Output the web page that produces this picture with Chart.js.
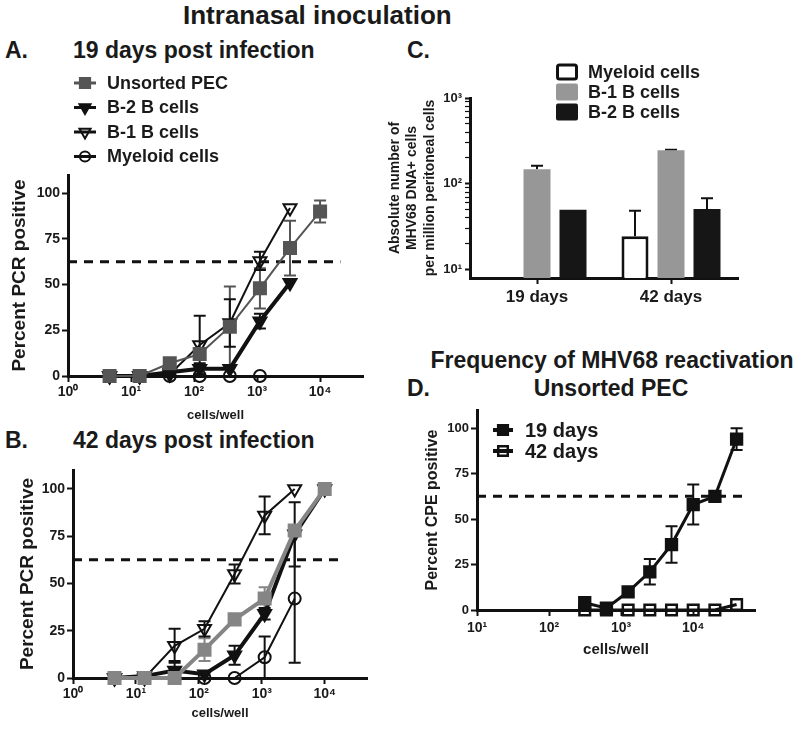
<!DOCTYPE html>
<html>
<head>
<meta charset="utf-8">
<script src="https://cdn.jsdelivr.net/npm/chart.js@4.4.1/dist/chart.umd.min.js"></script>
<style>
body { margin: 0; background: #fff; width: 800px; height: 731px; position: relative; overflow: hidden;
       font-family: "Liberation Sans", Arial, sans-serif; font-weight: bold; color: #1a1a1a; }
.t { position: absolute; white-space: nowrap; line-height: 1; }
.c { transform: translateX(-50%); }
.panel { position: absolute; }
canvas { display: block; }
</style>
</head>
<body>
<div class="t" style="left:183px;top:2px;font-size:26px">Intranasal inoculation</div>
<div class="t" style="left:5px;top:39px;font-size:23px">A.</div>
<div class="t" style="left:73px;top:39px;font-size:23px">19 days post infection</div>
<div class="t" style="left:407px;top:39px;font-size:23px">C.</div>
<div class="t" style="left:5px;top:429px;font-size:23px">B.</div>
<div class="t" style="left:73px;top:429px;font-size:23px">42 days post infection</div>
<div class="t c" style="left:612px;top:349px;font-size:23px">Frequency of MHV68 reactivation</div>
<div class="t" style="left:407px;top:377px;font-size:23px">D.</div>
<div class="t c" style="left:611px;top:377px;font-size:23px">Unsorted PEC</div>

<div class="panel" style="left:0;top:65px"><canvas id="chartA" width="400" height="365"></canvas></div>
<div class="panel" style="left:0;top:455px"><canvas id="chartB" width="400" height="276"></canvas></div>
<div class="panel" style="left:380px;top:55px"><canvas id="chartC" width="420" height="260"></canvas></div>
<div class="panel" style="left:380px;top:395px"><canvas id="chartD" width="420" height="270"></canvas></div>

<script>
// cells per well (3-fold dilutions for A/B, 2-fold for D)
const dilutionsAB = [4.57, 13.7, 41.2, 123, 370, 1111, 3333, 10000];
const dilutionsD = [312.5, 625, 1250, 2500, 5000, 10000, 20000, 40000];
const threshold = 62.5;

// panel A: 19 days
const unsortedA = [0, 0, 7, 12, 27, 48, 70, 90];
const unsortedAErr = [0, 0, 0, 3, 22, 11, 15, 6];
const b2A = [0, 0, 2, 4, 4, 30, 51, null];
const b2AErr = [0, 0, 0, 3, 0, 4, 0, 0];
const b1A = [0, 0, 1, 17, 29, 63, 92, null];
const b1AErr = [0, 0, 0, 16, 13, 5, 0, 0];
const myeloidA = [0, 0, 0, 0, 0, 0, null, null];

// panel B: 42 days
const unsortedB = [0, 0, 0, 15, 31, 42, 78, 100];
const unsortedBErr = [0, 0, 0, 6, 0, 6, 0, 0];
const b2B = [0, 1, 4, 2, 12, 34, 76, 100];
const b2BErr = [0, 0, 5, 0, 5, 3, 17, 0];
const b1B = [0, 0, 17, 26, 55, 86, 100, null];
const b1BErr = [0, 0, 9, 4, 5, 10, 0, 0];
const myeloidB = [0, 0, 0, 0, 0, 11, 42, null];
const myeloidBErr = [0, 0, 0, 0, 0, 11, 34, 0];

// panel C: absolute numbers
const groups = ['19 days', '42 days'];
const myeloidC = [null, 24.5];
const myeloidCErr = [0, 24];
const b1C = [148, 246];
const b1CErr = [14, 3];
const b2C = [50, 51];
const b2CErr = [0, 17];

// panel D: reactivation
const d19 = [4, 1, 10, 21, 36, 58, 62.5, 94];
const d19Err = [0, 0, 0, 7, 10, 11, 0, 6];
const d42 = [0, 0, 0, 0, 0, 0, 0, 3];

const pctTicks = [0, 25, 50, 75, 100];
const FONT = '"Liberation Sans", Arial, sans-serif';
const INK = '#111';
const OPEN = 'rgba(255,255,255,0)';
Chart.defaults.font.family = FONT;
Chart.defaults.font.weight = 'bold';
Chart.defaults.color = '#1a1a1a';

const supDigits = ['⁰', '¹', '²', '³', '⁴', '⁵'];
function powLabel(v) {
    const e = Math.log10(v);
    if (Math.abs(e - Math.round(e)) > 1e-6) return '';
    return '10' + supDigits[Math.round(e)];
}
function pts(xs, ys) {
    return xs.map((x, i) => ({x: x, y: ys[i]}));
}

// error bars drawn under the markers
const errorBars = {
    id: 'errorBars',
    beforeDatasetsDraw(chart) {
        const ctx = chart.ctx;
        chart.data.datasets.forEach((ds, di) => {
            if (!ds.err) return;
            const meta = chart.getDatasetMeta(di);
            const ys = chart.scales[meta.yAxisID];
            ctx.save();
            ctx.strokeStyle = ds.errColor || ds.borderColor;
            ctx.lineWidth = 2;
            meta.data.forEach((el, i) => {
                const e = ds.err[i];
                const raw = ds.data[i];
                const v = (raw !== null && typeof raw === 'object') ? raw.y : raw;
                if (!e || v === null || v === undefined) return;
                const x = el.x;
                const top = ys.getPixelForValue(v + e);
                const bot = ds.upOnly ? ys.getPixelForValue(v) : ys.getPixelForValue(Math.max(v - e, ys.min));
                const cap = ds.capWidth || 6;
                ctx.beginPath();
                ctx.moveTo(x, top); ctx.lineTo(x, bot);
                ctx.moveTo(x - cap, top); ctx.lineTo(x + cap, top);
                if (!ds.upOnly && v - e > ys.min) { ctx.moveTo(x - cap, bot); ctx.lineTo(x + cap, bot); }
                ctx.stroke();
            });
            ctx.restore();
        });
    }
};

// legend: line + marker, drawn with the library's point renderer
const lineLegend = {
    id: 'lineLegend',
    afterDraw(chart, args, o) {
        if (!o || !o.x) return;
        const ctx = chart.ctx;
        const items = chart.data.datasets.filter(d => d.label);
        items.forEach((ds, i) => {
            const y = o.y + i * o.step;
            ctx.save();
            ctx.fillStyle = ds.pointBackgroundColor;
            ctx.strokeStyle = ds.borderColor;
            ctx.lineWidth = ds.pointBorderWidth;
            Chart.helpers.drawPoint(ctx, {
                pointStyle: ds.pointStyle, rotation: ds.pointRotation || 0,
                radius: ds.pointRadius * (o.scale || 1), borderWidth: ds.pointBorderWidth
            }, o.x, y);
            ctx.strokeStyle = ds.borderColor;
            ctx.lineWidth = o.lineWidth || 3;
            ctx.beginPath();
            ctx.moveTo(o.x - o.half, y); ctx.lineTo(o.x + o.half, y);
            ctx.stroke();
            ctx.fillStyle = '#1a1a1a';
            ctx.font = 'bold ' + o.size + 'px ' + FONT;
            ctx.textBaseline = 'middle';
            ctx.fillText(ds.label, o.textX, y + 1);
            ctx.restore();
        });
    }
};

// legend: boxes for bars
const boxLegend = {
    id: 'boxLegend',
    afterDraw(chart, args, o) {
        if (!o || !o.x) return;
        const ctx = chart.ctx;
        chart.data.datasets.forEach((ds, i) => {
            const y = o.y + i * o.step;
            ctx.save();
            ctx.beginPath();
            ctx.roundRect(o.x, y - o.h / 2, o.w, o.h, 2);
            ctx.fillStyle = ds.backgroundColor;
            ctx.fill();
            if (ds.borderWidth) {
                ctx.lineWidth = ds.borderWidth;
                ctx.strokeStyle = ds.borderColor;
                ctx.beginPath();
                ctx.roundRect(o.x + 1.5, y - o.h / 2 + 1.5, o.w - 3, o.h - 3, 2);
                ctx.stroke();
            }
            ctx.fillStyle = '#1a1a1a';
            ctx.font = 'bold ' + o.size + 'px ' + FONT;
            ctx.textBaseline = 'middle';
            ctx.fillText(ds.label, o.textX, y + 1);
            ctx.restore();
        });
    }
};

function axisCommon(tickSize) {
    return {
        grid: {display: true, drawOnChartArea: false, drawTicks: true, tickLength: 6, tickWidth: 2, tickColor: INK},
        border: {display: true, color: INK, width: 3},
        ticks: {font: {size: tickSize, weight: 'bold'}, color: '#1a1a1a', maxRotation: 0, autoSkip: false}
    };
}

function threshLine(x0, x1) {
    return {
        data: [{x: x0, y: threshold}, {x: x1, y: threshold}],
        borderColor: INK, borderWidth: 3, borderDash: [9, 7], pointRadius: 0, clip: false
    };
}

function series(label, xs, ys, err, style) {
    return Object.assign({
        label: label, data: pts(xs, ys), err: err, clip: false,
        borderColor: INK, pointBorderColor: INK, pointBackgroundColor: INK,
        borderWidth: 2, pointBorderWidth: 2, pointRadius: 6, tension: 0
    }, style);
}

const sqStyle = (col, lw) => ({pointStyle: 'rect', pointRadius: 8.5, borderColor: col, pointBorderColor: col, pointBackgroundColor: col, borderWidth: lw});
const b2Style = {pointStyle: 'triangle', pointRotation: 180, pointRadius: 7.5, borderWidth: 4};
const b1Style = {pointStyle: 'triangle', pointRotation: 180, pointRadius: 7.5, pointBackgroundColor: OPEN, borderWidth: 2};
const myStyle = {pointStyle: 'circle', pointRadius: 6, pointBackgroundColor: OPEN, borderWidth: 2};

function pctPanel(id, datasets, o) {
    const xAx = axisCommon(14);
    const yAx = axisCommon(14);
    return new Chart(document.getElementById(id), {
        type: 'line',
        data: {datasets: datasets},
        plugins: [errorBars, lineLegend],
        options: {
            animation: false, responsive: false, events: [],
            layout: {padding: {top: o.top, right: o.right, left: 0, bottom: 0}},
            plugins: {legend: {display: false}, tooltip: {enabled: false}, lineLegend: o.legend || {}},
            scales: {
                x: Object.assign(xAx, {
                    type: 'logarithmic', min: o.xmin, max: o.xmax,
                    afterBuildTicks: s => { s.ticks = o.xticks.map(v => ({value: v})); },
                    ticks: Object.assign(xAx.ticks, {padding: o.xpad, callback: v => powLabel(v)}),
                    title: {display: true, text: 'cells/well', font: {size: o.xtitleSize, weight: 'bold'}, padding: {top: 0, bottom: o.xtitlePad}},
                    afterFit: s => { s.height = o.xh; }
                }),
                y: Object.assign(yAx, {
                    type: 'linear', min: 0, max: 110,
                    afterBuildTicks: s => { s.ticks = pctTicks.map(v => ({value: v})); },
                    ticks: Object.assign(yAx.ticks, {padding: 2, font: {size: o.ytickSize, weight: 'bold'}}),
                    title: {display: true, text: o.ytitle, font: {size: o.ytitleSize, weight: 'bold'}, padding: {top: o.ytitlePad, bottom: 0}},
                    afterFit: s => { s.width = o.yw; }
                })
            }
        }
    });
}

// Panel A
pctPanel('chartA', [
    series('Unsorted PEC', dilutionsAB, unsortedA, unsortedAErr, sqStyle('#555', 2)),
    series('B-2 B cells', dilutionsAB, b2A, b2AErr, b2Style),
    series('B-1 B cells', dilutionsAB, b1A, b1AErr, b1Style),
    series('Myeloid cells', dilutionsAB, myeloidA, null, myStyle),
    threshLine(1, 21000)
], {top: 110, right: 37, xmin: 1, xmax: 48000, xticks: [1, 10, 100, 1000, 10000], xpad: 2, xh: 54,
    xtitleSize: 13, xtitlePad: 7, yw: 68, ytitle: 'Percent PCR positive', ytitleSize: 19, ytitlePad: 8, ytickSize: 14,
    legend: {x: 85, half: 11, y: 18, step: 24.5, textX: 107, size: 18, lineWidth: 3, scale: 0.85}});

// Panel B
pctPanel('chartB', [
    series('Unsorted PEC', dilutionsAB, unsortedB, unsortedBErr, sqStyle('#858585', 4)),
    series('B-2 B cells', dilutionsAB, b2B, b2BErr, b2Style),
    series('B-1 B cells', dilutionsAB, b1B, b1BErr, b1Style),
    series('Myeloid cells', dilutionsAB, myeloidB, myeloidBErr, myStyle),
    threshLine(1, 21000)
], {top: 15, right: 33, xmin: 1, xmax: 47000, xticks: [1, 10, 100, 1000, 10000], xpad: 2, xh: 53,
    xtitleSize: 13, xtitlePad: 10, yw: 73, ytitle: 'Percent PCR positive', ytitleSize: 19, ytitlePad: 16, ytickSize: 14});

// Panel D
pctPanel('chartD', [
    series('19 days', dilutionsD, d19, d19Err, {pointStyle: 'rect', pointRadius: 8, borderWidth: 3}),
    series('42 days', dilutionsD, d42, null, {pointStyle: 'rect', pointRadius: 7.5, pointBackgroundColor: OPEN, pointBorderWidth: 2.5, borderWidth: 3}),
    threshLine(10, 56000)
], {top: 15, right: 45, xmin: 10, xmax: 72000, xticks: [10, 100, 1000, 10000], xpad: 4, xh: 55,
    xtitleSize: 15, xtitlePad: 6, yw: 97, ytitle: 'Percent CPE positive', ytitleSize: 16, ytitlePad: 43, ytickSize: 13,
    legend: {x: 123, half: 10, y: 35, step: 21, textX: 145, size: 20, lineWidth: 4, scale: 0.9}});

// Panel C
const cx = axisCommon(17);
const cy = axisCommon(13);
new Chart(document.getElementById('chartC'), {
    type: 'bar',
    data: {
        labels: groups,
        datasets: [
            {label: 'Myeloid cells', data: myeloidC, err: myeloidCErr, upOnly: true, backgroundColor: '#fff', borderColor: INK, borderWidth: 3, borderSkipped: 'bottom', errColor: INK},
            {label: 'B-1 B cells', data: b1C, err: b1CErr, upOnly: true, backgroundColor: '#979797', borderColor: '#979797', borderWidth: 0, errColor: INK},
            {label: 'B-2 B cells', data: b2C, err: b2CErr, upOnly: true, backgroundColor: '#161616', borderColor: '#161616', borderWidth: 0, errColor: INK}
        ]
    },
    plugins: [errorBars, boxLegend],
    options: {
        animation: false, responsive: false, events: [],
        categoryPercentage: 0.806, barPercentage: 0.75,
        layout: {padding: {top: 43, right: 62, left: 0, bottom: 0}},
        plugins: {legend: {display: false}, tooltip: {enabled: false},
                  boxLegend: {x: 176, w: 22, h: 17, y: 17, step: 20, textX: 208, size: 18}},
        scales: {
            x: Object.assign(cx, {
                grid: Object.assign(cx.grid, {offset: false}),
                ticks: Object.assign(cx.ticks, {padding: 3}),
                afterFit: s => { s.height = 37; }
            }),
            y: Object.assign(cy, {
                type: 'logarithmic', min: 8, max: 1000,
                afterBuildTicks: s => {
                    const t = [];
                    [10, 100].forEach(d => { for (let k = 1; k < 10; k++) t.push({value: k * d}); });
                    t.push({value: 1000});
                    s.ticks = t;
                },
                grid: Object.assign(cy.grid, {tickLength: 5, tickWidth: c => powLabel(c.tick.value) ? 2 : 1.2}),
                ticks: Object.assign(cy.ticks, {padding: 3, callback: v => powLabel(v)}),
                title: {display: true, text: ['Absolute number of', 'MHV68 DNA+ cells', 'per million peritoneal cells'],
                        font: {size: 14, weight: 'bold', lineHeight: 1.25}, padding: {top: 6, bottom: 0}},
                afterFit: s => { s.width = 90; }
            })
        }
    }
});
</script>
</body>
</html>
